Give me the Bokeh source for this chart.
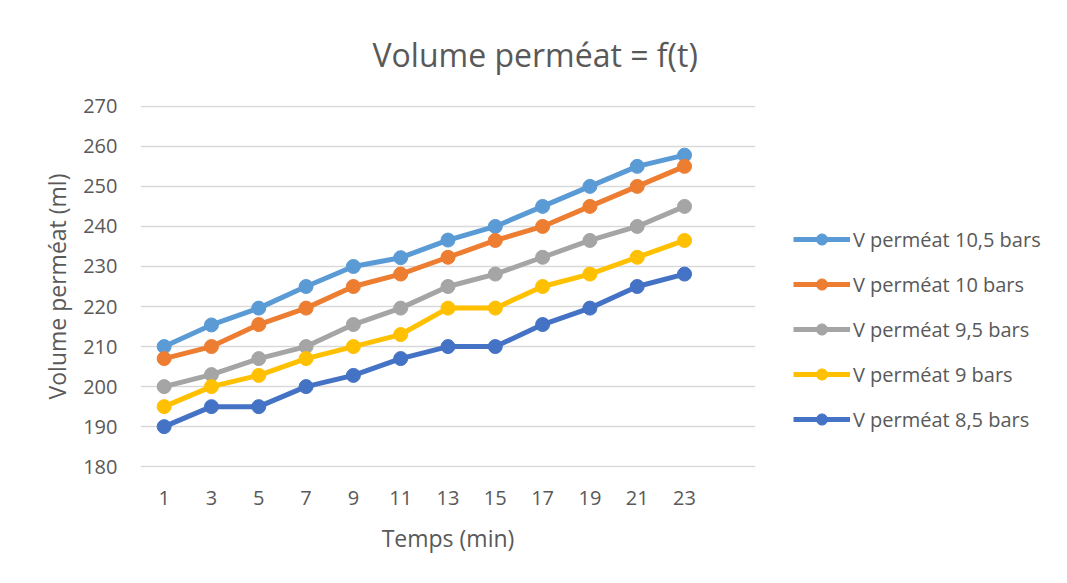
from bokeh.plotting import figure
from bokeh.models import Legend, LegendItem, FixedTicker, Range1d, Title
from bokeh.embed import file_html
from bokeh.resources import INLINE

temps = [1, 3, 5, 7, 9, 11, 13, 15, 17, 19, 21, 23]
v_10_5 = [210, 215.4, 219.6, 225, 230, 232.2, 236.6, 240, 245, 250, 255, 257.8]
v_10 = [207, 210, 215.5, 219.6, 225, 228.1, 232.3, 236.5, 240, 245, 250, 255]
v_9_5 = [200, 203, 207, 210, 215.5, 219.6, 225, 228.1, 232.3, 236.5, 240, 245]
v_9 = [195, 200, 202.8, 207, 210, 213, 219.6, 219.6, 225, 228.1, 232.3, 236.5]
v_8_5 = [190, 195, 195, 200, 202.8, 207, 210, 210, 215.5, 219.6, 225, 228.1]
y_ticks = [180, 190, 200, 210, 220, 230, 240, 250, 260, 270]

series = [
    ("V perméat 10,5 bars", v_10_5, "#5B9BD5"),
    ("V perméat 10 bars", v_10, "#ED7D31"),
    ("V perméat 9,5 bars", v_9_5, "#A5A5A5"),
    ("V perméat 9 bars", v_9, "#FFC000"),
    ("V perméat 8,5 bars", v_8_5, "#4472C4"),
]

FONT = "Open Sans"
TXT = "#595959"

p = figure(output_backend="svg", toolbar_location=None,
           frame_width=615, frame_height=362,
           min_border_left=140, min_border_top=100,
           min_border_right=296, min_border_bottom=100,
           x_range=Range1d(0, 26), y_range=Range1d(179.8, 270.2))
p.title = None
p.outline_line_color = None
p.background_fill_color = "white"
p.border_fill_color = "white"

p.xgrid.grid_line_color = None
p.ygrid.grid_line_color = "#D9D9D9"
p.ygrid.grid_line_width = 1.3
p.yaxis.ticker = FixedTicker(ticks=y_ticks)
p.xaxis.ticker = FixedTicker(ticks=temps)

for ax in (p.xaxis, p.yaxis):
    ax.axis_line_color = None
    ax.major_tick_line_color = None
    ax.minor_tick_line_color = None
    ax.major_tick_out = 0
    ax.major_tick_in = 0
    ax.major_label_text_font = FONT
    ax.major_label_text_font_size = "20px"
    ax.major_label_text_color = TXT
    ax.axis_label_text_font = FONT
    ax.axis_label_text_font_size = "23px"
    ax.axis_label_text_color = TXT
    ax.axis_label_text_font_style = "normal"

p.xaxis.axis_label = "Temps (min)"
p.yaxis.axis_label = "Volume perméat (ml)"
p.xaxis.major_label_standoff = 23
p.yaxis.major_label_standoff = 23
p.xaxis.axis_label_standoff = 14
p.yaxis.axis_label_standoff = 7

items = []
for name, vals, col in series:
    r1 = p.line(temps, vals, line_color=col, line_width=5)
    r2 = p.scatter(temps, vals, marker="circle", size=14, fill_color=col, line_color=col)
    items.append(LegendItem(label=name, renderers=[r1, r2]))

legend = Legend(items=items, location=(38, 34))
legend.border_line_color = None
legend.background_fill_alpha = 0
legend.padding = 0
legend.margin = 0
legend.label_text_font = FONT
legend.label_text_font_size = "20px"
legend.label_text_color = TXT
legend.glyph_width = 57
legend.glyph_height = 28
legend.label_height = 28
legend.spacing = 17
legend.label_standoff = 3
p.add_layout(legend, "right")

title = Title(text="Volume perméat = f(t)", align="left", offset=232, standoff=60,
              text_font=FONT, text_font_size="32px", text_color=TXT,
              text_font_style="normal")
p.add_layout(title, "above")

open("out.html", "w").write(file_html(p, INLINE))
